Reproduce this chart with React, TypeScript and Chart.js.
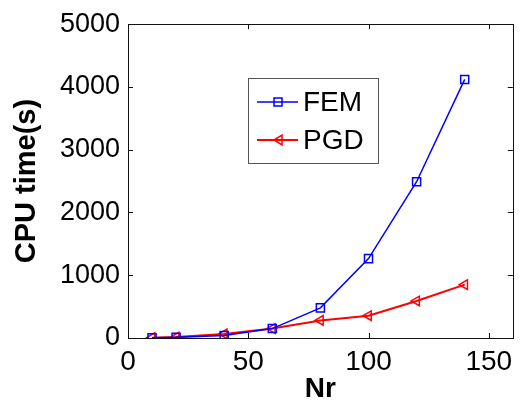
import React, { useEffect, useRef } from "react";
import { Chart, registerables } from "chart.js";

Chart.register(...registerables);

const nrValues = [10, 20, 40, 60, 80, 100, 120, 140];
const femTimes = [5, 10, 40, 150, 480, 1265, 2490, 4120];
const pgdTimes = [5, 15, 65, 150, 280, 355, 590, 850];
const xTickValues = [0, 50, 100, 150];
const yTickValues = [0, 1000, 2000, 3000, 4000, 5000];
const seriesNames = ["FEM", "PGD"];
const seriesColors = ["#0000ff", "#ff0000"];

const FONT = "'Liberation Sans', Arial, Helvetica, sans-serif";

const framePlugin = {
  id: "frame",
  afterDraw(chart: any) {
    const { ctx, chartArea } = chart;
    const { left, right, top, bottom } = chartArea;
    const xs = chart.scales.x;
    const ys = chart.scales.y;
    ctx.save();
    ctx.strokeStyle = "#111";
    ctx.lineWidth = 1;
    ctx.strokeRect(Math.round(left) + 0.5, Math.round(top) + 0.5, Math.round(right - left), Math.round(bottom - top));
    const tl = 5;
    ctx.beginPath();
    xTickValues.forEach((v) => {
      const px = Math.round(xs.getPixelForValue(v)) + 0.5;
      ctx.moveTo(px, bottom);
      ctx.lineTo(px, bottom - tl);
      ctx.moveTo(px, top);
      ctx.lineTo(px, top + tl);
    });
    yTickValues.forEach((v) => {
      const py = Math.round(ys.getPixelForValue(v)) + 0.5;
      ctx.moveTo(left, py);
      ctx.lineTo(left + tl, py);
      ctx.moveTo(right, py);
      ctx.lineTo(right - tl, py);
    });
    ctx.stroke();

    // legend
    const bx = 248.5, by = 78.5, bw = 130, bh = 85;
    ctx.fillStyle = "#fff";
    ctx.fillRect(bx, by, bw, bh);
    ctx.strokeStyle = "#555";
    ctx.strokeRect(bx, by, bw, bh);
    const rows = [102, 140];
    seriesNames.forEach((name, i) => {
      const y = rows[i];
      ctx.strokeStyle = seriesColors[i];
      ctx.lineWidth = i === 0 ? 1.5 : 2;
      ctx.beginPath();
      ctx.moveTo(257, y);
      ctx.lineTo(298, y);
      ctx.stroke();
      ctx.lineWidth = 1.5;
      ctx.beginPath();
      if (i === 0) {
        ctx.rect(274, y - 4, 8, 8);
      } else {
        ctx.moveTo(274, y);
        ctx.lineTo(282, y - 5);
        ctx.lineTo(282, y + 5);
        ctx.closePath();
      }
      ctx.stroke();
      ctx.fillStyle = "#000";
      ctx.font = `28px ${FONT}`;
      ctx.textBaseline = "middle";
      ctx.textAlign = "left";
      ctx.fillText(name, 303, y + 1);
    });
    ctx.restore();
  },
};

export default function App() {
  const ref = useRef<HTMLCanvasElement>(null);
  useEffect(() => {
    if (!ref.current) return;
    const chart = new Chart(ref.current, {
      type: "line",
      data: {
        datasets: [
          {
            label: seriesNames[0],
            data: nrValues.map((x, i) => ({ x, y: femTimes[i] })),
            borderColor: seriesColors[0],
            backgroundColor: "transparent",
            borderWidth: 1.5,
            pointStyle: "rect",
            pointRadius: 5.7,
            pointBorderWidth: 1.5,
            pointBorderColor: seriesColors[0],
            pointBackgroundColor: "transparent",
            tension: 0,
          },
          {
            label: seriesNames[1],
            data: nrValues.map((x, i) => ({ x, y: pgdTimes[i] })),
            borderColor: seriesColors[1],
            backgroundColor: "transparent",
            borderWidth: 2,
            pointStyle: "triangle",
            pointRotation: -90,
            pointRadius: 5.5,
            pointBorderWidth: 1.5,
            pointBorderColor: seriesColors[1],
            pointBackgroundColor: "transparent",
            tension: 0,
          },
        ],
      },
      options: {
        animation: false,
        responsive: true,
        maintainAspectRatio: false,
        layout: { padding: { top: 19, right: 3, left: 0, bottom: 0 } },
        plugins: { legend: { display: false }, tooltip: { enabled: false } },
        scales: {
          x: {
            type: "linear",
            min: 0,
            max: 160,
            grid: { display: false, drawTicks: false },
            border: { display: false },
            afterBuildTicks: (s: any) => {
              s.ticks = xTickValues.map((v) => ({ value: v }));
            },
            afterFit: (s: any) => {
              s.height = 70;
            },
            ticks: {
              color: "#000",
              font: { family: FONT, size: 28 },
              padding: 7,
              maxRotation: 0,
              autoSkip: false,
              callback: (v: any) => String(v),
            },
            title: {
              display: true,
              text: "Nr",
              color: "#000",
              font: { family: FONT, size: 28, weight: "bold" },
              padding: { top: 0, bottom: 2 },
            },
          },
          y: {
            type: "linear",
            min: 0,
            max: 5000,
            grid: { display: false, drawTicks: false },
            border: { display: false },
            afterBuildTicks: (s: any) => {
              s.ticks = yTickValues.map((v) => ({ value: v }));
            },
            afterFit: (s: any) => {
              s.width = 128;
            },
            ticks: {
              color: "#000",
              font: { family: FONT, size: 27 },
              padding: 8,
              autoSkip: false,
              callback: (v: any) => String(v),
            },
            title: {
              display: true,
              text: "CPU time(s)",
              color: "#000",
              font: { family: FONT, size: 29, weight: "bold" },
              padding: { top: 10, bottom: 0 },
            },
          },
        },
      },
      plugins: [framePlugin],
    });
    return () => chart.destroy();
  }, []);
  return (
    <div style={{ position: "absolute", left: 0, top: 0, width: 520, height: 408, background: "#fff" }}>
      <canvas ref={ref} />
    </div>
  );
}
